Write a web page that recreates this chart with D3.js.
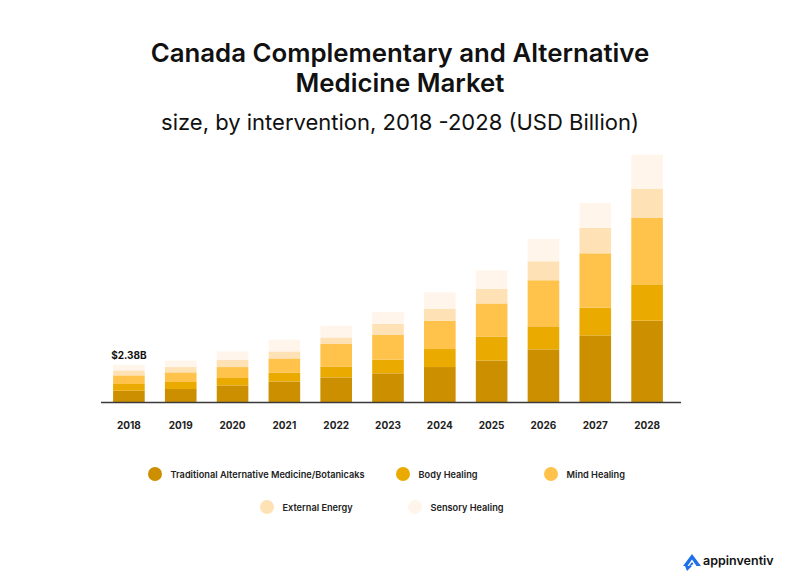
<!DOCTYPE html>
<html>
<head>
<meta charset="utf-8">
<script src="https://cdn.jsdelivr.net/npm/d3@7"></script>
<style>
  html, body { margin: 0; padding: 0; background: #ffffff; }
  svg { display: block; }
</style>
</head>
<body>
<svg id="chart" width="800" height="585"></svg>
<script>
// ---- Data (USD Billion) ----
const years = ["2018","2019","2020","2021","2022","2023","2024","2025","2026","2027","2028"];
const seriesNames = ["Traditional Alternative Medicine/Botanicaks","Body Healing","Mind Healing","External Energy","Sensory Healing"];
const traditional = [0.72, 0.83, 1.06, 1.31, 1.57, 1.83, 2.23, 2.65, 3.36, 4.25, 5.19];
const bodyHealing = [0.43, 0.45, 0.47, 0.56, 0.70, 0.87, 1.15, 1.53, 1.47, 1.77, 2.32];
const mindHealing = [0.55, 0.61, 0.70, 0.91, 1.43, 1.58, 1.81, 2.11, 2.94, 3.47, 4.26];
const externalEnergy = [0.32, 0.34, 0.47, 0.45, 0.42, 0.70, 0.77, 0.92, 1.21, 1.62, 1.85];
const sensoryHealing = [0.36, 0.42, 0.53, 0.75, 0.75, 0.77, 1.04, 1.19, 1.43, 1.60, 2.17];
const colors = ["#CC8F00", "#EAAA00", "#FFC24B", "#FFE1B6", "#FFF5EA"];
const annotation = { year: "2018", text: "$2.38B" };

// ---- Build table ----
const keys = ["trad","body","mind","ext","sens"];
const table = years.map((y, i) => ({
  year: y,
  trad: traditional[i], body: bodyHealing[i], mind: mindHealing[i],
  ext: externalEnergy[i], sens: sensoryHealing[i]
}));
const stacked = d3.stack().keys(keys)(table);

const svg = d3.select("#chart");
const font = "Inter, 'Noto Sans', sans-serif";

// ---- Titles ----
svg.append("text").attr("x", 400).attr("y", 62).attr("text-anchor", "middle")
  .style("font-family", font).style("font-weight", 600).style("font-size", "25.8px").attr("fill", "#111")
  .text("Canada Complementary and Alternative");
svg.append("text").attr("x", 400).attr("y", 92).attr("text-anchor", "middle")
  .style("font-family", font).style("font-weight", 600).style("font-size", "25.8px").attr("fill", "#111")
  .text("Medicine Market");
svg.append("text").attr("x", 400).attr("y", 130).attr("text-anchor", "middle")
  .style("font-family", font).style("font-weight", 400).style("font-size", "22px").attr("fill", "#111")
  .text("size, by intervention, 2018 -2028 (USD Billion)");

// ---- Scales ----
const baseY = 402;
const x = d3.scaleBand().domain(years).range([103, 673]).paddingInner(0.39).paddingOuter(0.195);
const y = d3.scaleLinear().domain([0, 16]).range([baseY, baseY - 16 * 15.67]);

// ---- Bars ----
svg.append("g").selectAll("g").data(stacked).join("g")
  .attr("fill", (d, i) => colors[i])
  .selectAll("rect").data(d => d).join("rect")
  .attr("x", d => x(d.data.year))
  .attr("width", x.bandwidth())
  .attr("y", d => y(d[1]))
  .attr("height", d => y(d[0]) - y(d[1]));

// ---- Axis ----
const xAxis = d3.axisBottom(x).tickSize(0).tickPadding(0);
const gx = svg.append("g").attr("transform", `translate(0,${baseY})`).call(xAxis);
gx.select(".domain").remove();
gx.selectAll("text")
  .attr("y", 27).attr("dy", 0)
  .style("font-family", font).style("font-weight", 700).style("font-size", "10px").attr("fill", "#222");
svg.append("line").attr("x1", 101).attr("x2", 681).attr("y1", baseY + 0.5).attr("y2", baseY + 0.5)
  .attr("stroke", "#3a3a3a").attr("stroke-width", 1.3);

// ---- Annotation ----
const annIdx = years.indexOf(annotation.year);
const annTop = stacked[stacked.length - 1][annIdx][1];
svg.append("text")
  .attr("x", x(annotation.year) + x.bandwidth() / 2)
  .attr("y", y(annTop) - 6)
  .attr("text-anchor", "middle")
  .style("font-family", font).style("font-weight", 700).style("font-size", "10px").attr("fill", "#111")
  .text(annotation.text);

// ---- Legend ----
const legendPos = [
  { cx: 155, cy: 474 }, { cx: 403, cy: 474 }, { cx: 551, cy: 474 },
  { cx: 267, cy: 507 }, { cx: 415, cy: 507 }
];
const lg = svg.append("g").selectAll("g").data(seriesNames).join("g")
  .attr("transform", (d, i) => `translate(${legendPos[i].cx},${legendPos[i].cy})`);
lg.append("circle").attr("r", 7).attr("fill", (d, i) => colors[i]);
lg.append("text").attr("x", 15.5).attr("y", 3.5)
  .style("font-family", font).style("font-weight", 600).style("font-size", "9.2px").attr("fill", "#222")
  .text(d => d);

// ---- Logo ----
const logo = svg.append("g").attr("transform", "translate(683,554)");
logo.append("path")
  .attr("d", "M0,12 L9,0 L18,12 L13.5,12 L9,5.5 L4.5,12 Z M6,12 L9,8 L10.5,10 L7.5,12 Z")
  .attr("fill", "#1E6FE8");
logo.append("path").attr("d", "M2,12 L9,12 L4,17 Z").attr("fill", "#1E6FE8");
svg.append("text").attr("x", 703).attr("y", 565)
  .style("font-family", font).style("font-weight", 600).style("font-size", "12.5px").attr("fill", "#111")
  .text("appinventiv");
</script>
</body>
</html>
